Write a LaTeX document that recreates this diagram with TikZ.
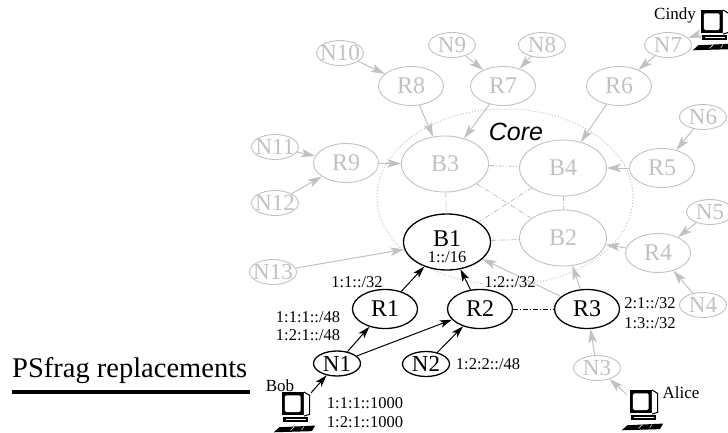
\documentclass[tikz,border=0pt]{standalone}
\usepackage{fontspec}
\setmainfont{Liberation Serif}
\newfontfamily\coresf{Liberation Sans}
\usetikzlibrary{shapes.geometric,arrows.meta}
\definecolor{lg}{RGB}{190,195,188}
\tikzset{
 base/.style={ellipse, inner sep=0pt, font=\fontsize{24}{26}\selectfont},
 nfont/.style={font=\fontsize{23}{25}\selectfont},
 gnode/.style={base, draw=lg, line width=0.9pt, text=lg},
 bnode/.style={base, draw=black, line width=1.3pt, text=black},
 nsz/.style={nfont, minimum width=47pt, minimum height=25pt},
 rsz/.style={minimum width=65pt, minimum height=39pt},
 bsz/.style={minimum width=87pt, minimum height=56pt},
 garr/.style={draw=lg, line width=1pt, -{Stealth[length=14pt,width=8.5pt,inset=3.5pt]}},
 barr/.style={draw=black, line width=1pt, -{Stealth[length=12pt,width=7.5pt,inset=3pt]}},
 coreline/.style={draw=lg, line width=0.8pt, dash pattern=on 5pt off 2pt on 1pt off 2pt},
 lbl/.style={font=\fontsize{16.5}{18}\selectfont, inner sep=0pt},
 who/.style={font=\fontsize{17}{18}\selectfont, inner sep=0pt},
 compnode/.style={rectangle, draw=none, inner sep=0pt, minimum width=32pt, minimum height=36pt},
 comp/.pic={
   \begin{scope}[scale=1.12]
   \fill[black] (-12,-17) rectangle (8,4);
   \fill[white, rounded corners=1.5pt] (-9,-14) rectangle (5,1);
   \draw[black, line width=1pt, fill=white] (8,-17) -- (13,-14) -- (13,3) -- (8,4.5);
   \fill[black] (-11,5) rectangle (12,9.5);
   \draw[white, line width=0.6pt] (-8,7.2) -- (10,7.2);
   \fill[black] (-19,19) -- (-14,14.5) -- (18,13) -- (15,18) -- cycle;
   \draw[white, line width=0.5pt] (-4,17.3) -- (-1,14.3) (6,16.8) -- (8,13.8);
   \end{scope}
 },
}
\begin{document}
\begin{tikzpicture}[x=1pt,y=-1pt]
\useasboundingbox (0,0) rectangle (728,433);

% core region
\draw[lg, dotted, line width=1pt] (505,197) ellipse [x radius=128, y radius=88];
\node[font=\coresf\itshape\fontsize{25}{28}\selectfont, inner sep=0pt] (core) at (516,132) {Core};

% gray nodes
\node[gnode,nsz] (n10) at (340,53) {\makebox[0pt]{N10}};
\node[gnode,nsz] (n9) at (452,45) {\makebox[0pt]{N9}};
\node[gnode,nsz] (n8) at (542,45) {\makebox[0pt]{N8}};
\node[gnode,nsz] (n7) at (668,45) {\makebox[0pt]{N7}};
\node[gnode,rsz] (r8) at (411,86) {\makebox[0pt]{R8}};
\node[gnode,rsz] (r7) at (503,86) {\makebox[0pt]{R7}};
\node[gnode,rsz] (r6) at (619,86) {\makebox[0pt]{R6}};
\node[gnode,nsz] (n11) at (275,147) {\makebox[0pt]{N11}};
\node[gnode,rsz] (r9) at (346,163) {\makebox[0pt]{R9}};
\node[gnode,nsz] (n12) at (275,203) {\makebox[0pt]{N12}};
\node[gnode,bsz] (b3) at (445,164) {\makebox[0pt]{B3}};
\node[gnode,bsz] (b4) at (563,168) {\makebox[0pt]{B4}};
\node[gnode,bsz] (b2) at (563,238) {\makebox[0pt]{B2}};
\node[gnode,nsz] (n6) at (703,117) {\makebox[0pt]{N6}};
\node[gnode,rsz] (r5) at (662,168) {\makebox[0pt]{R5}};
\node[gnode,nsz] (n5) at (710,212) {\makebox[0pt]{N5}};
\node[gnode,rsz] (r4) at (658,253) {\makebox[0pt]{R4}};
\node[gnode,nsz] (n4) at (703,305) {\makebox[0pt]{N4}};
\node[gnode,nsz] (n3) at (597,368) {\makebox[0pt]{N3}};
\node[gnode,nsz] (n13) at (273,272) {\makebox[0pt]{N13}};

% black nodes
\node[bnode,bsz] (b1) at (447,242) {};
\node[base, inner sep=0pt] (b1t) at (447,238.5) {B1};
\node[lbl] (b1s) at (447,257.5) {1::/16};
\node[bnode,rsz] (r1) at (385,309) {\makebox[0pt]{R1}};
\node[bnode,rsz] (r2) at (480,309) {\makebox[0pt]{R2}};
\node[bnode,rsz] (r3) at (587,309) {\makebox[0pt]{R3}};
\node[bnode,nsz] (n1) at (337,363.5) {\makebox[0pt]{N1}};
\node[bnode,nsz] (n2) at (426,364) {\makebox[0pt]{N2}};

% computers
\node[compnode] (bob) at (295,411) {};
\pic at (bob) {comp};
\node[compnode] (alice) at (643,409) {};
\pic at (alice) {comp};
\node[compnode] (cindy) at (714,29) {};
\pic at (cindy) {comp};
\node[who] (bobt) at (280,386) {Bob};
\node[who] (alicet) at (681,393) {Alice};
\node[who] (cindyt) at (675,15) {Cindy};

% core links
\draw[coreline] (b3) -- (b4);
\draw[coreline] (b3) -- (b1);
\draw[coreline] (b4) -- (b2);
\draw[coreline] (b1) -- (b2);
\draw[coreline] (b3) -- (b2);
\draw[coreline] (b4) -- (b1);
\draw[black, line width=0.9pt, dash pattern=on 5pt off 2pt on 1pt off 2pt] (r2) -- (r3);

% gray arrows
\draw[garr] (n10) -- (r8);
\draw[garr] (n9) -- (r7);
\draw[garr] (n8) -- (r7);
\draw[garr] (r8) -- (b3);
\draw[garr] (r7) -- (b3);
\draw[garr] (cindy) -- (n7);
\draw[garr] (n7) -- (r6);
\draw[garr] (r6) -- (b4);
\draw[garr] (n6) -- (r5);
\draw[garr] (r5) -- (b4);
\draw[garr] (n5) -- (r4);
\draw[garr] (n4) -- (r4);
\draw[garr] (r4) -- (b2);
\draw[garr] (n11) -- (r9);
\draw[garr] (n12) -- (r9);
\draw[garr] (r9) -- (b3);
\draw[garr] (n13) -- (b1);
\draw[garr] (r3) -- (b2);
\draw[garr] (r3) -- (b1);
\draw[garr] (n3) -- (r3);
\draw[garr] (alice) -- (n3);

% black arrows
\draw[barr] (bob) -- (n1);
\draw[barr] (n1) -- (r1);
\draw[barr] (n1) -- (r2);
\draw[barr] (n2) -- (r2);
\draw[barr] (r1) -- (b1);
\draw[barr] (r2) -- (b1);

% address labels
\node[lbl] (l1) at (357,282) {1:1::/32};
\node[lbl] (l2) at (510,282) {1:2::/32};
\node[lbl] (l3) at (308,317) {1:1:1::/48};
\node[lbl] (l4) at (308,335) {1:2:1::/48};
\node[lbl] (l5) at (488,364) {1:2:2::/48};
\node[lbl] (l6) at (365,403) {1:1:1::1000};
\node[lbl] (l7) at (365,422) {1:2:1::1000};
\node[lbl] (l8) at (650,303) {2:1::/32};
\node[lbl] (l9) at (650,323) {1:3::/32};

% PSfrag
\node[anchor=base west, inner sep=0pt, font=\fontsize{28.5}{30}\selectfont] (ps) at (12,377) {PSfrag replacements};
\draw[line width=3.5pt] (12,392) -- (250,392);
\end{tikzpicture}
\end{document}
